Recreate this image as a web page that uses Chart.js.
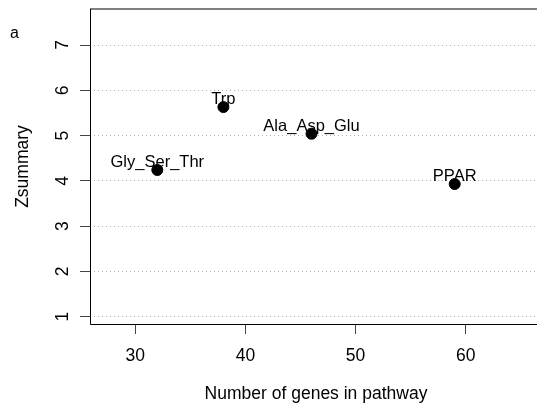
<!DOCTYPE html>
<html>
<head>
<meta charset="utf-8">
<script src="https://cdn.jsdelivr.net/npm/chart.js@4.4.1/dist/chart.umd.min.js"></script>
<style>
  html, body { margin: 0; padding: 0; background: #fff; overflow: hidden; }
  #plot { display: block; }
</style>
</head>
<body>
<canvas id="plot" width="537" height="404"></canvas>
<script>
// pathway data
const pathways = ["Gly_Ser_Thr", "Trp", "Ala_Asp_Glu", "PPAR"];
const geneCounts = [32, 38, 46, 59];
const zsummary = [4.24, 5.63, 5.04, 3.93];
const xTicks = [30, 40, 50, 60];
const yTicks = [1, 2, 3, 4, 5, 6, 7];

const FONT = "'Liberation Sans', Arial, Helvetica, sans-serif";

// R-ish decorations: box, tick labels, titles, point labels
const rStyle = {
  id: "rStyle",
  afterDraw(chart) {
    const ctx = chart.ctx;
    const a = chart.chartArea;
    const xs = chart.scales.x, ys = chart.scales.y;
    ctx.save();

    // box (left, bottom, top; right side is off the picture)
    ctx.strokeStyle = "#000";
    ctx.lineWidth = 1;
    ctx.beginPath();
    ctx.moveTo(a.left + 0.5, a.top);
    ctx.lineTo(a.left + 0.5, a.bottom + 0.5);
    ctx.lineTo(a.right, a.bottom + 0.5);
    ctx.moveTo(a.left, a.top);
    ctx.lineTo(a.right, a.top);
    ctx.stroke();

    ctx.fillStyle = "#000";

    // x tick labels
    ctx.font = "17.5px " + FONT;
    ctx.textAlign = "center";
    ctx.textBaseline = "alphabetic";
    xTicks.forEach(v => ctx.fillText(String(v), xs.getPixelForValue(v), 361));

    // y tick labels, rotated like R
    yTicks.forEach(v => {
      ctx.save();
      ctx.translate(68, ys.getPixelForValue(v));
      ctx.rotate(-Math.PI / 2);
      ctx.textAlign = "center";
      ctx.fillText(String(v), 0, 0);
      ctx.restore();
    });

    // axis titles
    ctx.textAlign = "center";
    ctx.fillText("Number of genes in pathway", 316, 399);
    ctx.save();
    ctx.translate(28, (a.top + a.bottom) / 2);
    ctx.rotate(-Math.PI / 2);
    ctx.fillText("Zsummary", 0, 0);
    ctx.restore();

    // panel letter
    ctx.font = "16px " + FONT;
    ctx.textAlign = "left";
    ctx.fillText("a", 10, 38);

    // point labels
    ctx.font = "16.5px " + FONT;
    ctx.textAlign = "center";
    chart.getDatasetMeta(0).data.forEach((pt, i) => {
      ctx.fillText(pathways[i], pt.x, pt.y - 3);
    });

    ctx.restore();
  }
};

new Chart(document.getElementById("plot"), {
  type: "scatter",
  data: {
    datasets: [{
      data: geneCounts.map((g, i) => ({ x: g, y: zsummary[i] })),
      backgroundColor: "#000",
      borderColor: "#000",
      pointRadius: 5.5,
      pointHoverRadius: 5.5
    }]
  },
  options: {
    responsive: false,
    animation: false,
    layout: { autoPadding: false, padding: { top: 9, right: 0, left: 0, bottom: 0 } },
    plugins: { legend: { display: false }, tooltip: { enabled: false } },
    scales: {
      x: {
        type: "linear",
        min: 25.89,
        max: 66.47,
        afterBuildTicks: s => { s.ticks = xTicks.map(v => ({ value: v })); },
        afterFit: s => { s.height = 80; s.paddingLeft = 0; s.paddingRight = 0; },
        ticks: { display: false },
        border: { display: false },
        grid: {
          display: true,
          drawOnChartArea: false,
          drawTicks: true,
          tickLength: 10,
          tickColor: "#444",
          tickWidth: 1
        }
      },
      y: {
        type: "linear",
        min: 0.839,
        max: 7.795,
        afterBuildTicks: s => { s.ticks = yTicks.map(v => ({ value: v })); },
        afterFit: s => { s.width = 90; s.paddingTop = 0; s.paddingBottom = 0; },
        ticks: { display: false },
        border: { display: false, dash: [1, 3] },
        grid: {
          display: true,
          drawOnChartArea: true,
          drawTicks: true,
          tickLength: 10,
          color: "#b0b0b0",
          lineWidth: 1,
          tickColor: "#444",
          tickWidth: 1,
          tickBorderDash: []
        }
      }
    }
  },
  plugins: [rStyle]
});
</script>
</body>
</html>
